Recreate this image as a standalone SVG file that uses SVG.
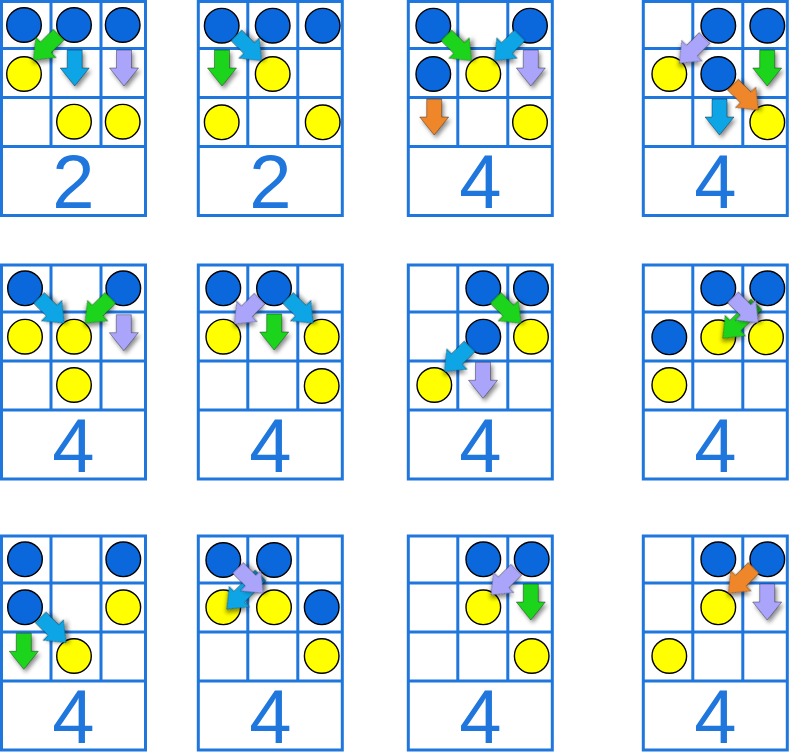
<svg xmlns="http://www.w3.org/2000/svg" xmlns:xlink="http://www.w3.org/1999/xlink" width="791" height="753" viewBox="0 0 791 753">
<style>
.gl{fill:none;stroke:#1f76dc;stroke-width:3}
.bg{fill:#fff}
.b{fill:#0a68dc;stroke:#000;stroke-width:1.4}
.y{fill:#ffff00;stroke:#000;stroke-width:1.4}
.num{font-family:"Liberation Sans",Arial,sans-serif;font-size:76px;fill:#1f76dc;text-anchor:middle}
.ag{fill:#1ed41e}
.ac{fill:#0aa5e6}
.ap{fill:#aaa5fa}
.ao{fill:#f0862a}
</style>
<defs>
<filter id="sh" x="-50%" y="-50%" width="200%" height="200%">
<feDropShadow dx="2" dy="3" stdDeviation="2" flood-color="#000" flood-opacity="0.45"/>
</filter>
<path id="arr" d="M-7.5,-36 H7.5 V-18 H14.5 L0,0 L-14.5,-18 H-7.5 Z" stroke="#000" stroke-opacity="0.45" stroke-width="0.8" filter="url(#sh)"/>
<path id="arrL" d="M-7.5,-48 H7.5 V-18 H14.5 L0,0 L-14.5,-18 H-7.5 Z" stroke="#000" stroke-opacity="0.45" stroke-width="0.8" filter="url(#sh)"/>
<g id="grid">
<rect class="bg" x="0" y="0" width="144" height="214"/>
<path class="gl" d="M0,0 H144 V214 H0 Z M49.5,0 V145 M99.5,0 V145 M0,47 H144 M0,96 H144 M0,145 H144"/>
</g>
</defs>
<rect width="791" height="753" fill="#fff"/>

<g id="panel-1">
<use href="#grid" x="1.5" y="1.5"/>
<circle class="b" cx="24" cy="25" r="17.3"/><circle class="b" cx="74" cy="25" r="17.3"/><circle class="b" cx="122.7" cy="25" r="17.3"/>
<circle class="y" cx="24" cy="74" r="17.3"/><circle class="y" cx="74" cy="121.7" r="17.3"/><circle class="y" cx="122.7" cy="121.7" r="17.3"/>
<text class="num" x="73.5" y="207.5">2</text>
</g>
<g id="panel-2">
<use href="#grid" x="198.3" y="1.5"/>
<circle class="b" cx="221.7" cy="25.7" r="17.3"/><circle class="b" cx="272.7" cy="25.7" r="17.3"/><circle class="b" cx="322.7" cy="25.7" r="17.3"/>
<circle class="y" cx="272.7" cy="74" r="17.3"/><circle class="y" cx="221.7" cy="122.3" r="17.3"/><circle class="y" cx="322.7" cy="122.3" r="17.3"/>
<text class="num" x="270.3" y="207.5">2</text>
</g>
<g id="panel-3">
<use href="#grid" x="408.3" y="1.5"/>
<circle class="b" cx="433.3" cy="25.7" r="17.3"/><circle class="b" cx="530" cy="25.7" r="17.3"/><circle class="b" cx="433.3" cy="74" r="17.3"/>
<circle class="y" cx="483.3" cy="74" r="17.3"/><circle class="y" cx="530" cy="122.3" r="17.3"/>
<text class="num" x="480.3" y="207.5">4</text>
</g>
<g id="panel-4">
<use href="#grid" x="643.3" y="1.5"/>
<circle class="b" cx="718.3" cy="25.7" r="17.3"/><circle class="b" cx="767.3" cy="25.7" r="17.3"/><circle class="b" cx="718.3" cy="74" r="17.3"/>
<circle class="y" cx="669.3" cy="74" r="17.3"/><circle class="y" cx="767.3" cy="122.3" r="17.3"/>
<text class="num" x="715.3" y="207.5">4</text>
</g>

<g id="panel-5">
<use href="#grid" x="1.5" y="265"/>
<circle class="b" cx="25" cy="288.3" r="17.3"/><circle class="b" cx="123.3" cy="288.3" r="17.3"/>
<circle class="y" cx="25" cy="336.7" r="17.3"/><circle class="y" cx="74" cy="336.7" r="17.3"/><circle class="y" cx="74" cy="385" r="17.3"/>
<text class="num" x="73.5" y="472">4</text>
</g>
<g id="panel-6">
<use href="#grid" x="198.3" y="265"/>
<circle class="b" cx="223.3" cy="288.3" r="17.3"/><circle class="b" cx="274" cy="288.3" r="17.3"/>
<circle class="y" cx="223.3" cy="336.7" r="17.3"/><circle class="y" cx="321.7" cy="336.7" r="17.3"/><circle class="y" cx="321.7" cy="386" r="17.3"/>
<text class="num" x="270.3" y="472">4</text>
</g>
<g id="panel-7">
<use href="#grid" x="408.3" y="265"/>
<circle class="b" cx="483.3" cy="288.3" r="17.3"/><circle class="b" cx="531" cy="288.3" r="17.3"/><circle class="b" cx="483.3" cy="336.7" r="17.3"/>
<circle class="y" cx="531" cy="336.7" r="17.3"/><circle class="y" cx="434.3" cy="385" r="17.3"/>
<text class="num" x="480.3" y="472">4</text>
</g>
<g id="panel-8">
<use href="#grid" x="643.3" y="265"/>
<circle class="b" cx="718.3" cy="288.3" r="17.3"/><circle class="b" cx="767.3" cy="288.3" r="17.3"/><circle class="b" cx="669.3" cy="337.3" r="17.3"/>
<circle class="y" cx="718.3" cy="337.3" r="17.3"/><circle class="y" cx="766" cy="337.3" r="17.3"/><circle class="y" cx="669.3" cy="385" r="17.3"/>
<text class="num" x="715.3" y="472">4</text>
</g>

<g id="panel-9">
<use href="#grid" x="1.5" y="536"/>
<circle class="b" cx="25" cy="559.3" r="17.3"/><circle class="b" cx="123.3" cy="559.3" r="17.3"/><circle class="b" cx="25" cy="607.3" r="17.3"/>
<circle class="y" cx="123.3" cy="607.3" r="17.3"/><circle class="y" cx="74" cy="656" r="17.3"/>
<text class="num" x="73.5" y="743">4</text>
</g>
<g id="panel-10">
<use href="#grid" x="198.3" y="536"/>
<circle class="b" cx="223.3" cy="560" r="17.3"/><circle class="b" cx="274" cy="560" r="17.3"/><circle class="b" cx="321.7" cy="607.3" r="17.3"/>
<circle class="y" cx="223.3" cy="607.3" r="17.3"/><circle class="y" cx="274" cy="607.3" r="17.3"/><circle class="y" cx="321.7" cy="656" r="17.3"/>
<text class="num" x="270.3" y="743">4</text>
</g>
<g id="panel-11">
<use href="#grid" x="408.3" y="536"/>
<circle class="b" cx="483.3" cy="559.3" r="17.3"/><circle class="b" cx="531.7" cy="559.3" r="17.3"/>
<circle class="y" cx="483.3" cy="607.3" r="17.3"/><circle class="y" cx="531.7" cy="656" r="17.3"/>
<text class="num" x="480.3" y="743">4</text>
</g>
<g id="panel-12">
<use href="#grid" x="643.3" y="536"/>
<circle class="b" cx="718.3" cy="559.3" r="17.3"/><circle class="b" cx="767.3" cy="559.3" r="17.3"/>
<circle class="y" cx="718.3" cy="607.3" r="17.3"/><circle class="y" cx="669.3" cy="656" r="17.3"/>
<text class="num" x="715.3" y="743">4</text>
</g>

<g id="connectors">
<use href="#arr" class="ag" transform="translate(33.3,60) rotate(45)"/>
<use href="#arr" class="ac" transform="translate(74.7,86)"/>
<use href="#arr" class="ap" transform="translate(124,86)"/>

<use href="#arr" class="ag" transform="translate(222,86)"/>
<use href="#arr" class="ac" transform="translate(261.7,60.7) rotate(-45)"/>

<use href="#arr" class="ag" transform="translate(471.7,60.7) rotate(-45)"/>
<use href="#arr" class="ac" transform="translate(494.3,60.7) rotate(45)"/>
<use href="#arr" class="ap" transform="translate(530.8,86)"/>
<use href="#arr" class="ao" transform="translate(434.2,135)"/>

<use href="#arr" class="ap" transform="translate(679.3,63.3) rotate(45)"/>
<use href="#arr" class="ag" transform="translate(767.2,86)"/>
<use href="#arr" class="ao" transform="translate(758.3,110) rotate(-45)"/>
<use href="#arr" class="ac" transform="translate(719.5,135)"/>

<use href="#arr" class="ac" transform="translate(64.3,323.3) rotate(-45)"/>
<use href="#arr" class="ag" transform="translate(85,323.3) rotate(45)"/>
<use href="#arr" class="ap" transform="translate(123.8,350.7)"/>

<use href="#arr" class="ap" transform="translate(234.3,324) rotate(45)"/>
<use href="#arr" class="ag" transform="translate(274.2,350)"/>
<use href="#arr" class="ac" transform="translate(313.3,323.3) rotate(-45)"/>

<use href="#arr" class="ag" transform="translate(521,323.3) rotate(-45)"/>
<use href="#arr" class="ac" transform="translate(444.3,371.7) rotate(45)"/>
<use href="#arr" class="ap" transform="translate(483,398.3)"/>

<use href="#arrL" class="ag" transform="translate(722.7,338.3) rotate(45)"/>
<use href="#arr" class="ap" transform="translate(758.3,322.7) rotate(-45)"/>

<use href="#arr" class="ac" transform="translate(66,642.7) rotate(-45)"/>
<use href="#arr" class="ag" transform="translate(23.8,669.3)"/>

<use href="#arrL" class="ac" transform="translate(226.7,609.3) rotate(45)"/>
<use href="#arr" class="ap" transform="translate(263.3,593.3) rotate(-45)"/>

<use href="#arr" class="ap" transform="translate(491,595) rotate(45)"/>
<use href="#arr" class="ag" transform="translate(530.8,620)"/>

<use href="#arr" class="ao" transform="translate(728.3,593.3) rotate(45)"/>
<use href="#arr" class="ap" transform="translate(767.2,620)"/>
</g>
</svg>
